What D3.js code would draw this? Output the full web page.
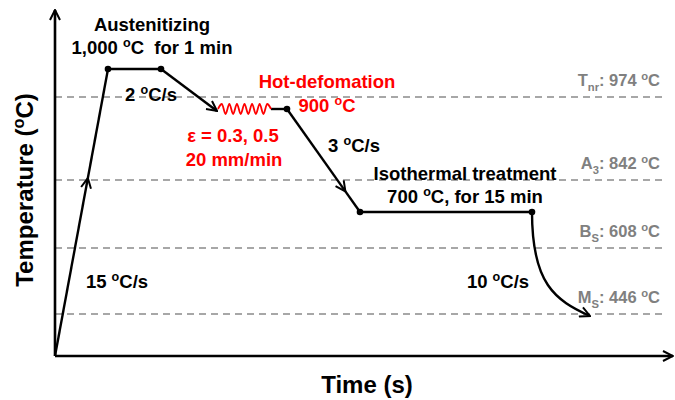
<!DOCTYPE html>
<html>
<head>
<meta charset="utf-8">
<script src="https://cdn.jsdelivr.net/npm/d3@7"></script>
<style>
  body { margin: 0; background: #fff; }
  text { font-family: "Liberation Sans", Arial, sans-serif; font-weight: bold; white-space: pre; }
</style>
</head>
<body>
<svg width="675" height="400"></svg>
<script>
// critical temperatures (dashed reference lines)
const critNames = ["T_{nr}", "A_{3}", "B_{S}", "M_{S}"];
const critTemps = [974, 842, 608, 446];

// schematic schedule (time in arbitrary units, temperature in oC)
const schedTime = [0, 53, 106, 162, 216, 232, 305, 477];
const schedTemp = [0, 1000, 1000, 900, 900, 900, 700, 700];
const springStart = 163, springEnd = 216;   // deformation zig-zag at 900 oC
const finalTime = [477, 477, 500, 535];      // final cooling curve (bezier)
const finalTemp = [700, 520, 480, 425];

// schematic (not to scale) temperature axis
const tempDomain = [0, 446, 608, 700, 842, 900, 974, 1000];

var svg = d3.select("svg"),
    width = +svg.attr("width"),
    height = +svg.attr("height");

var x = d3.scaleLinear().domain([0, 618]).range([55, 673]);
var y = d3.scaleLinear().domain(tempDomain).range([356, 314, 248, 212, 180, 109, 97, 69]);

var defs = svg.append("defs");
defs.append("marker")
  .attr("id", "arrow")
  .attr("viewBox", "0 0 12 12")
  .attr("refX", 11).attr("refY", 6)
  .attr("markerWidth", 12).attr("markerHeight", 12)
  .attr("markerUnits", "userSpaceOnUse")
  .attr("orient", "auto")
  .append("path")
    .attr("d", "M1,1 L11,6 L1,11")
    .attr("fill", "none")
    .attr("stroke", "#000")
    .attr("stroke-width", 2);

// helper: text with ^{sup} and _{sub}
function rich(g, str, size) {
  var t = g.append("text").attr("font-size", size);
  var re = /(\^\{[^}]*\}|_\{[^}]*\})/;
  var shift = 0;
  str.split(re).forEach(function(part) {
    if (!part) return;
    var target = 0, txt = part, small = false;
    if (part[0] === "^") { target = -0.36 * size; txt = part.slice(2, -1); small = true; }
    else if (part[0] === "_") { target = 0.3 * size; txt = part.slice(2, -1); small = true; }
    var ts = t.append("tspan").text(txt).attr("dy", target - shift);
    if (small) ts.attr("font-size", size * 0.68);
    shift = target;
  });
  return t;
}

// dashed critical temperature lines
svg.selectAll(".crit")
  .data(critTemps)
  .enter().append("line")
    .attr("x1", x(0)).attr("x2", x(608))
    .attr("y1", function(d) { return y(d); })
    .attr("y2", function(d) { return y(d); })
    .attr("stroke", "#8a8a8a")
    .attr("stroke-width", 1.6)
    .attr("stroke-dasharray", "7,5");

critTemps.forEach(function(d, i) {
  rich(svg, critNames[i] + ": " + d + " ^{o}C", 16.5)
    .attr("x", 660).attr("y", y(d) - 11)
    .attr("text-anchor", "end")
    .attr("fill", "#808080");
});

// axes
svg.append("line")
  .attr("x1", x(0)).attr("y1", y(0)).attr("x2", x(0)).attr("y2", 10)
  .attr("stroke", "#000").attr("stroke-width", 2.6)
  .attr("marker-end", "url(#arrow)");
svg.append("line")
  .attr("x1", x(0)).attr("y1", y(0)).attr("x2", x(618)).attr("y2", y(0))
  .attr("stroke", "#000").attr("stroke-width", 2.6)
  .attr("marker-end", "url(#arrow)");

// schedule path
var pts = schedTime.map(function(t, i) { return [x(t), y(schedTemp[i])]; });
var line = d3.line();
var black = svg.append("g").attr("fill", "none").attr("stroke", "#000").attr("stroke-width", 2.4);

// segment with an arrowhead part-way along it
function midArrow(a, b, f) {
  var m = [a[0] + (b[0] - a[0]) * f, a[1] + (b[1] - a[1]) * f];
  black.append("path").attr("d", line([a, m])).attr("marker-end", "url(#arrow)");
  black.append("path").attr("d", line([m, b]));
}
midArrow(pts[0], pts[1], 0.62);
black.append("path").attr("d", line([pts[1], pts[2]]));
black.append("path").attr("d", line([pts[2], [x(springStart) - 1, y(900) + 2]])).attr("marker-end", "url(#arrow)");
black.append("path").attr("d", line([[x(springEnd), y(900)], pts[5]]));
midArrow(pts[5], pts[6], 0.8);
black.append("path").attr("d", line([pts[6], pts[7]]));

// final cooling curve
var fc = finalTime.map(function(t, i) { return [x(t), y(finalTemp[i])]; });
black.append("path")
  .attr("d", "M" + fc[0] + "C" + fc[1] + " " + fc[2] + " " + fc[3])
  .attr("marker-end", "url(#arrow)");

// deformation zig-zag
var zig = [];
var nz = 14;
for (var k = 0; k <= nz; k++) {
  var xx = x(springStart) + (x(springEnd) - x(springStart)) * k / nz;
  var yy = y(900) + (k === 0 || k === nz ? 0 : (k % 2 ? -5 : 5));
  zig.push([xx, yy]);
}
svg.append("path")
  .attr("d", d3.line().curve(d3.curveMonotoneX)(zig))
  .attr("fill", "none").attr("stroke", "#ff0000").attr("stroke-width", 1.8);

// dots
svg.selectAll(".dot")
  .data([pts[1], pts[2], pts[5], pts[6], pts[7]])
  .enter().append("circle")
    .attr("cx", function(d) { return d[0]; })
    .attr("cy", function(d) { return d[1]; })
    .attr("r", 3.3)
    .attr("fill", "#000");

// annotations
var labels = [
  ["Austenitizing", 152, 31, "#000"],
  ["1,000 ^{o}C  for 1 min", 152, 54, "#000"],
  ["2 ^{o}C/s", 151, 101, "#000"],
  ["Hot-defomation", 327, 88, "#ff0000"],
  ["900 ^{o}C", 327, 112, "#ff0000"],
  ["\u03b5 = 0.3, 0.5", 233, 142, "#ff0000"],
  ["20 mm/min", 234, 166, "#ff0000"],
  ["3 ^{o}C/s", 354, 152, "#000"],
  ["Isothermal treatment", 465, 180, "#000"],
  ["700 ^{o}C, for 15 min", 465, 203, "#000"],
  ["15 ^{o}C/s", 117, 288, "#000"],
  ["10 ^{o}C/s", 498, 288, "#000"]
];
labels.forEach(function(l) {
  rich(svg, l[0], 18.5).attr("x", l[1]).attr("y", l[2])
    .attr("text-anchor", "middle").attr("fill", l[3]);
});

rich(svg, "Time (s)", 24).attr("x", 367).attr("y", 393).attr("text-anchor", "middle");
rich(svg, "Temperature (^{o}C)", 24)
  .attr("transform", "translate(33,190) rotate(-90)")
  .attr("text-anchor", "middle");
</script>
</body>
</html>
